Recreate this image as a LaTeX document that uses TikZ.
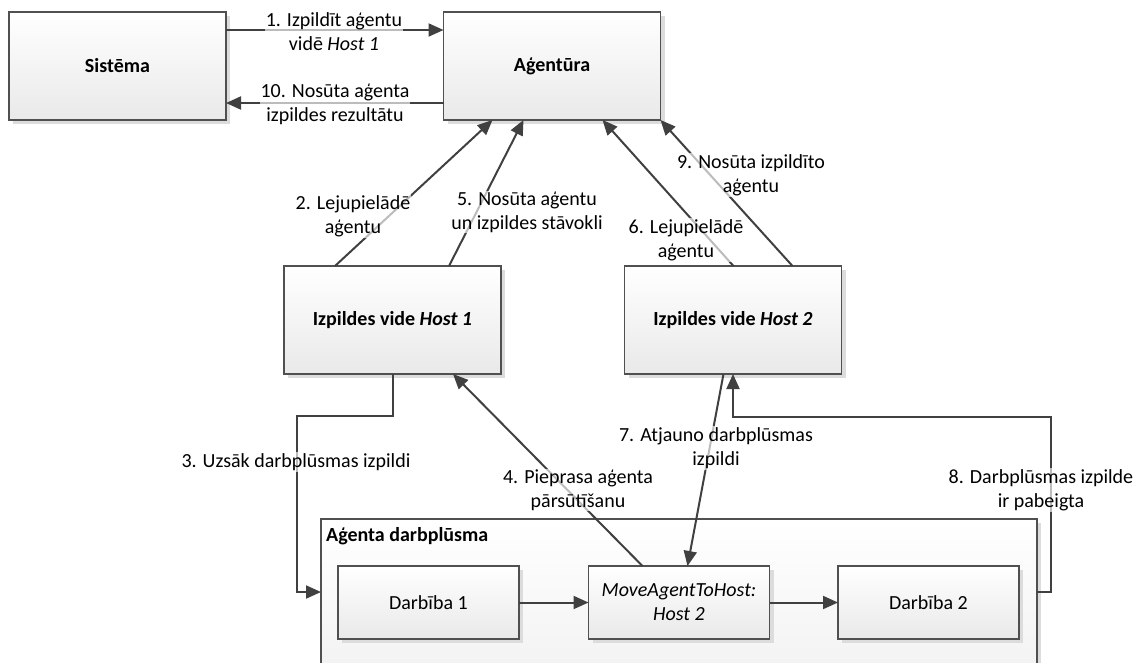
\documentclass[tikz,border=0pt]{standalone}
\usepackage{fontspec}
\setmainfont{Carlito}
\usetikzlibrary{arrows.meta,shadows,calc}

\definecolor{linec}{HTML}{404040}
\definecolor{edgec}{HTML}{505050}
\definecolor{shadec}{HTML}{DCDCDC}
\definecolor{boxbot}{HTML}{E9E9E9}
\definecolor{contbot}{HTML}{F3F3F3}

\tikzset{
  txt/.style={font=\fontsize{20}{24}\selectfont},
  bold/.style={font=\bfseries\fontsize{20}{24}\selectfont},
  box/.style={draw=edgec, line width=1.2pt, top color=white, bottom color=boxbot,
    inner sep=0pt, outer sep=0pt, align=center,
    drop shadow={shadow xshift=4pt, shadow yshift=-4pt, fill=shadec, opacity=1}},
  bigbox/.style={box, minimum width=217pt, minimum height=108pt, bold},
  stepbox/.style={box, minimum width=181pt, minimum height=73pt, txt},
  contbox/.style={box, bottom color=contbot, minimum width=716pt, minimum height=146pt},
  arr/.style={draw=linec, line width=2pt, -{Triangle[length=15pt,width=13pt]}},
  lbl/.style={txt, align=center, fill=white, fill opacity=0.65, text opacity=1, inner sep=1pt}
}

\begin{document}
\begin{tikzpicture}[x=1pt, y=-1pt]
  \useasboundingbox (0,0) rectangle (1136,662);

  % workflow container and its steps
  \node[contbox] (cont) at (679,592) {};
  \node[bold, anchor=north west, inner sep=0pt] (ctitle) at ($(cont.north west)+(5,8)$) {Aģenta darbplūsma};
  \node[stepbox] (d1) at (428.5,602.5) {Darbība 1};
  \node[stepbox] (mv) at (679,602.5) {\textit{MoveAgentToHost:}\\\textit{Host 2}};
  \node[stepbox] (d2) at (928.5,602.5) {Darbība 2};

  % main boxes
  \node[bigbox] (sis) at (117.5,66) {Sistēma};
  \node[bigbox] (agt) at (552,66) {Aģentūra};
  \node[bigbox] (h1) at (392.5,320) {Izpildes vide \textit{Host 1}};
  \node[bigbox] (h2) at (733,320) {Izpildes vide \textit{Host 2}};

  % connectors
  \draw[arr] ($(sis.north east)+(0,18)$) -- ($(agt.north west)+(0,18)$);
  \draw[arr] ($(agt.north west)+(0,91)$) -- ($(sis.north east)+(0,91)$);
  \draw[arr] ($(h1.north west)+(51,0)$) -- ($(agt.south west)+(49,0)$);
  \draw[arr] ($(h1.north west)+(165,0)$) -- ($(agt.south west)+(80,0)$);
  \draw[arr] ($(h2.north west)+(109,0)$) -- ($(agt.south east)+(-58,0)$);
  \draw[arr] ($(h2.north west)+(168,0)$) -- (agt.south east);
  \draw[arr] ($(h1.south west)+(109,0)$) -- ++(0,42) -- ++(-96,0) |- (cont.west);
  \draw[arr] ($(mv.north west)+(54,0)$) -- ($(h1.south west)+(169,0)$);
  \draw[arr] ($(h2.south west)+(99,0)$) -- ($(mv.north west)+(99,0)$);
  \draw[arr] (cont.east) -- ++(14,0) -- ++(0,-175) -| (h2.south);
  \draw[arr] (d1.east) -- (mv.west);
  \draw[arr] (mv.east) -- (d2.west);

  % connector labels
  \node[lbl] (l1) at (334,32) {1. Izpildīt aģentu\\vidē \textit{Host 1}};
  \node[lbl] (l10) at (335,104) {10. Nosūta aģenta\\izpildes rezultātu};
  \node[lbl] (l2) at (353,216) {2. Lejupielādē\\aģentu};
  \node[lbl] (l5) at (527,212) {5. Nosūta aģentu\\un izpildes stāvokli};
  \node[lbl] (l9) at (751,175) {9. Nosūta izpildīto\\aģentu};
  \node[lbl] (l6) at (686,240) {6. Lejupielādē\\aģentu};
  \node[lbl] (l3) at (296,462) {3. Uzsāk darbplūsmas izpildi};
  \node[lbl] (l4) at (578,490) {4. Pieprasa aģenta\\pārsūtīšanu};
  \node[lbl] (l7) at (716,448) {7. Atjauno darbplūsmas\\izpildi};
  \node[lbl] (l8) at (1041,490) {8. Darbplūsmas izpilde\\ir pabeigta};
\end{tikzpicture}
\end{document}
